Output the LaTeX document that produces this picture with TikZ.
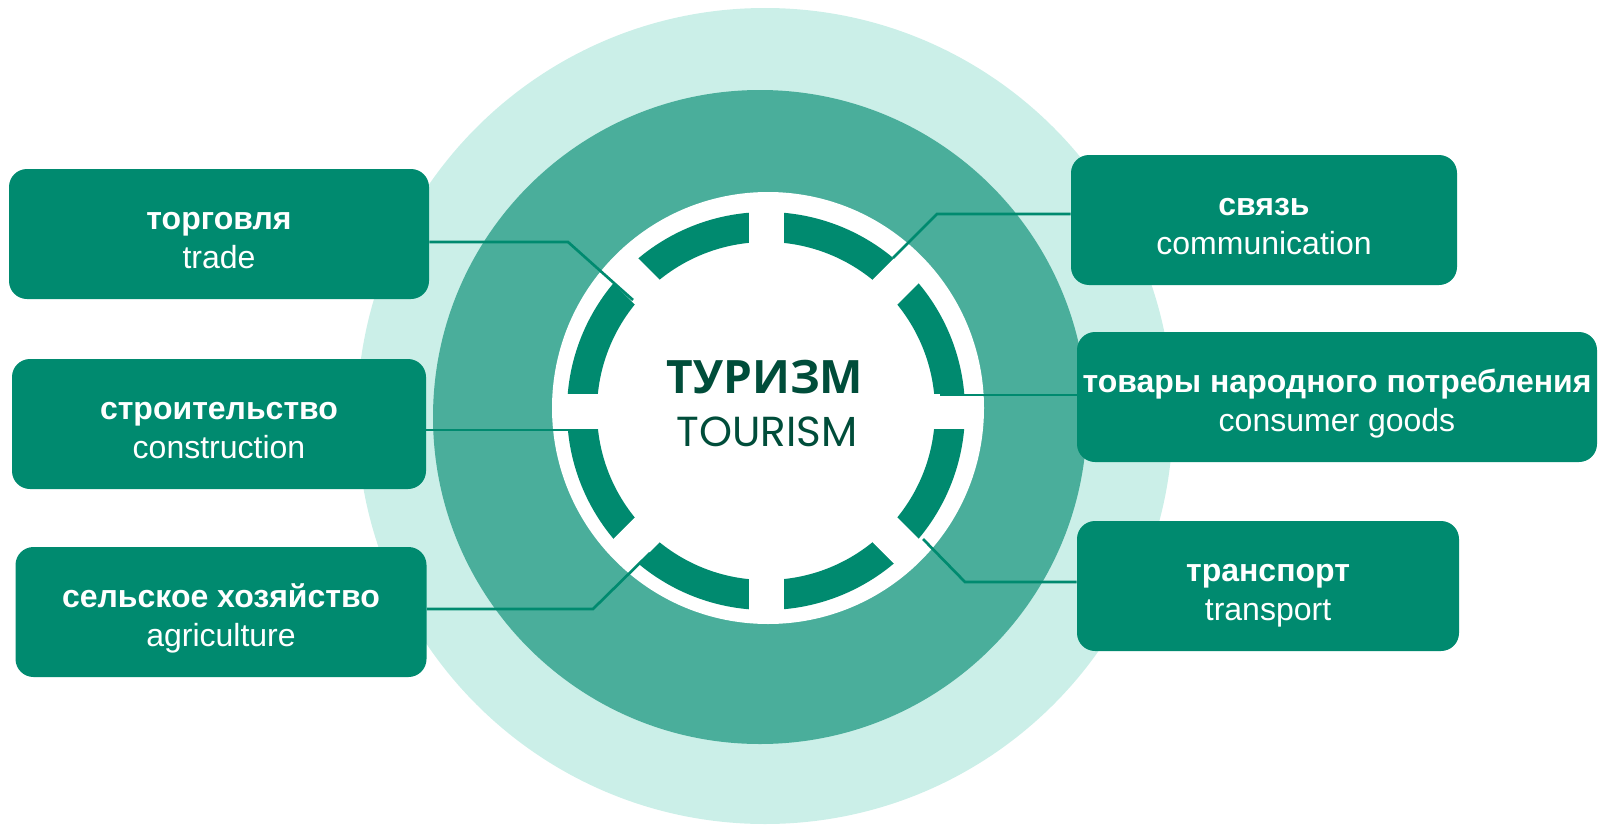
\documentclass[tikz,border=0pt]{standalone}
\usepackage{fontspec}
\setmainfont{Liberation Sans}
\newfontfamily\headfont{Open Sans}
\newfontfamily\subfont{Poppins}
\usepackage{tikz}
\definecolor{paleteal}{RGB}{203,239,232}
\definecolor{midteal}{RGB}{74,174,155}
\definecolor{darkteal}{RGB}{0,138,111}
\definecolor{deepgreen}{RGB}{0,77,58}
\newcommand{\pairtext}[2]{\rule{0pt}{28.5pt}\textbf{#1}\\#2\rule[-6pt]{0pt}{6pt}}
\tikzset{
  sector/.style={fill=darkteal, rounded corners=13.5pt, minimum height=97.5pt, inner sep=0pt,
    text=white, align=center, font=\fontsize{24}{29.8}\selectfont},
  link/.style={draw=darkteal, line width=2pt},
}

\begin{document}
\begin{tikzpicture}[x=0.75pt,y=0.75pt,yscale=-1,xscale=1]
\useasboundingbox (0,0) rectangle (1598,824);
%Shape: background discs
\fill[paleteal] (765,416) circle (408);
\fill[midteal] (760,417) circle (327);
\fill[white] (768,408) circle (216);
%Shape: broken ring
\draw[darkteal, line width=22.5pt] (766,411) circle (184);
\foreach \a in {0,45,90,135}
  \draw[white, line width=26.25pt] (766,411) ++(\a:-205) -- ++(\a:410);
% Text Node
\node[text=deepgreen, font=\headfont\bfseries\fontsize{34.5}{38}\selectfont] (tourismru) at (765,377) {ТУРИЗМ};
% Text Node
\node[text=deepgreen, font=\subfont\fontsize{31.5}{34}\selectfont] (tourismen) at (767,432) {TOURISM};
%Shape: branch boxes
\node[sector, minimum width=315pt] (trade) at (219,234) {\pairtext{торговля}{trade}};
\node[sector, minimum width=310.5pt] (build) at (219,424) {\pairtext{строительство}{construction}};
\node[sector, minimum width=308.25pt] (farm) at (221,612) {\pairtext{сельское хозяйство}{agriculture}};
\node[sector, minimum width=289.5pt] (comm) at (1264,220) {\pairtext{связь}{communication}};
\node[sector, minimum width=390pt] (goods) at (1337,397) {\pairtext{товары народного потребления}{consumer goods}};
\node[sector, minimum width=286.5pt] (transp) at (1268,586) {\pairtext{транспорт}{transport}};
%Straight Lines
\coordinate (tradeKnee) at (568,242);
\coordinate (tradeEnd) at (633,300);
\coordinate (buildEnd) at (597,430);
\coordinate (farmKnee) at (593,609);
\coordinate (farmEnd) at (650,553);
\coordinate (commKnee) at (937,214);
\coordinate (commEnd) at (893,258);
\coordinate (goodsEnd) at (940,395);
\coordinate (transpKnee) at (965,582);
\coordinate (transpEnd) at (923,539);
\draw[link] (trade.east |- tradeKnee) -- (tradeKnee) -- (tradeEnd);
\draw[link] (build.east |- buildEnd) -- (buildEnd);
\draw[link] (farm.east |- farmKnee) -- (farmKnee) -- (farmEnd);
\draw[link] (comm.west |- commKnee) -- (commKnee) -- (commEnd);
\draw[link] (goods.west |- goodsEnd) -- (goodsEnd);
\draw[link] (transp.west |- transpKnee) -- (transpKnee) -- (transpEnd);
\end{tikzpicture}
\end{document}
